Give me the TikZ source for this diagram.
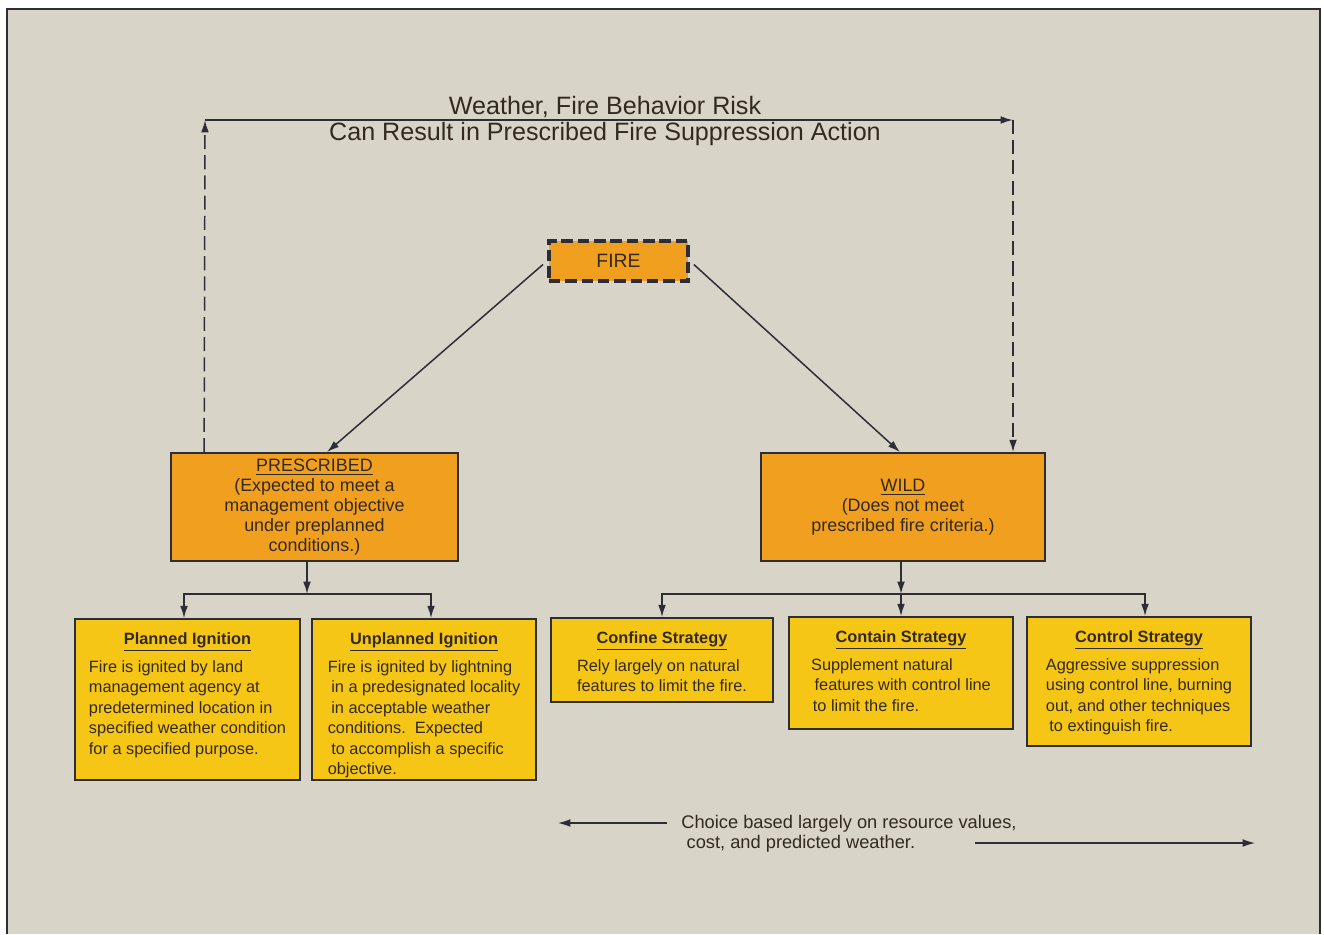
\documentclass[tikz,border=0pt]{standalone}
\usepackage{fontspec}
\setmainfont{Liberation Sans}
\usetikzlibrary{arrows.meta}
\definecolor{paper}{RGB}{217,212,200}
\definecolor{ink}{RGB}{45,45,55}
\definecolor{textink}{RGB}{50,42,32}
\definecolor{fireorange}{RGB}{241,159,31}
\definecolor{fireyellow}{RGB}{246,198,22}
\tikzset{
  arr/.style={-{Latex[length=7pt,width=4.4pt]}, line width=0.85pt, draw=ink},
  loopdash/.style={dash pattern=on 8pt off 3.5pt},
  titletext/.style={text=textink, inner sep=0pt, font=\fontsize{14.3}{16}\selectfont},
  firebox/.style={draw=ink, line width=2.3pt, dash pattern=on 6.5pt off 2.8pt, fill=fireorange,
    minimum width=2.78cm, minimum height=0.8cm, inner sep=0pt, text=textink, font=\fontsize{11}{13}\selectfont},
  bigbox/.style={draw=ink, line width=1pt, fill=fireorange, align=center, inner sep=0pt,
    text=textink, font=\fontsize{10.2}{11.3}\selectfont},
  smallbox/.style={draw=ink, line width=1pt, fill=fireyellow, inner sep=0pt,
    text=textink, font=\fontsize{9.3}{11.6}\selectfont},
  choicetext/.style={text=textink, inner sep=0pt, align=left, font=\fontsize{10.4}{11.3}\selectfont}
}
\def\strategybox(#1,#2,#3,#4,#5,#6,#7){
  \node[smallbox, minimum width=#4, minimum height=#5] (#1) at (#2,#3)
    {\parbox[c][#5][t]{#4}{\centering\vspace*{7.6pt}\underline{\textbf{#6}}\par\vspace{3pt}
     \begin{tabular}[t]{@{}l@{}}#7\end{tabular}\par}};
}

\begin{document}
\begin{tikzpicture}[x=0.02cm,y=-0.02cm]
\useasboundingbox (0,0) rectangle (1324,934);
\fill[paper] (7,9) rectangle (1320,934);
\draw[ink, line width=1.6pt] (7,934) |- (1320,9) -- (1320,934);

% top loop
\node[titletext, anchor=base] (title1) at (605,114) {Weather, Fire Behavior Risk};
\node[titletext, anchor=base] (title2) at (605,140) {Can Result in Prescribed Fire Suppression Action};

\node[firebox] (fire) at (618.5,261) {FIRE};
\node[bigbox, minimum width=5.74cm, minimum height=2.16cm] (presc) at (314.5,507)
  {\underline{PRESCRIBED}\\(Expected to meet a\\management objective\\under preplanned\\conditions.)};
\node[bigbox, minimum width=5.68cm, minimum height=2.16cm] (wild) at (903,507)
  {\underline{WILD}\\(Does not meet\\prescribed fire criteria.)};

\strategybox(planned,187.5,699.5,4.5cm,3.22cm,Planned Ignition,{Fire is ignited by land\\management agency at\\predetermined location in\\specified weather condition\\for a specified purpose.})
\strategybox(unplanned,424,699.5,4.48cm,3.22cm,Unplanned Ignition,{Fire is ignited by lightning\\\hspace*{2pt}in a predesignated locality\\\hspace*{2pt}in acceptable weather\\conditions.\ \ Expected\\\hspace*{2pt}to accomplish a specific\\objective.})
\strategybox(confine,662,660,4.44cm,1.68cm,Confine Strategy,{Rely largely on natural\\features to limit the fire.})
\strategybox(contain,901,673,4.48cm,2.24cm,Contain Strategy,{Supplement natural\\\hspace*{2pt}features with control line\\\hspace*{1pt}to limit the fire.})
\strategybox(control,1139,681.5,4.48cm,2.58cm,Control Strategy,{Aggressive suppression\\using control line, burning\\out, and other techniques\\\hspace*{2pt}to extinguish fire.})

\coordinate (loopL) at (205,120);
\coordinate (loopR) at (1013,120);
\draw[arr, loopdash] ([xshift=0.68cm]presc.north west) -- (loopL);
\draw[arr, line width=1pt] (loopL) -- (loopR);
\draw[arr, loopdash] (loopR) -- (loopR |- wild.north);

\draw[arr, shorten <=3pt] (fire.west) -- ([xshift=0.25cm]presc.north);
\draw[arr, shorten <=3pt] (fire.east) -- ([xshift=-0.06cm]wild.north);

% tree
\coordinate (pjoint) at (307,594);
\draw[arr] (presc.south -| pjoint) -- (pjoint);
\draw[arr] (pjoint) -| ([xshift=-0.07cm]planned.north);
\draw[arr] (pjoint) -| ([xshift=0.14cm]unplanned.north);
\coordinate (wjoint) at (901,594);
\draw[arr] (wild.south -| wjoint) -- (wjoint);
\draw[arr] (wjoint) -| (confine.north);
\draw[arr] (wjoint) -- (contain.north);
\draw[arr] (wjoint) -| ([xshift=0.12cm]control.north);

% choice
\node[choicetext, anchor=north west] (choice) at (681,815)
  {Choice based largely on resource values,\\\hspace*{3pt}cost, and predicted weather.};
\coordinate (lfrom) at (667,823);
\coordinate (lto) at (558,823);
\coordinate (rfrom) at (975,843);
\coordinate (rto) at (1255,843);
\draw[arr, line width=0.7pt] (lfrom) -- (lto);
\draw[arr, line width=0.7pt] (rfrom) -- (rto);
\end{tikzpicture}
\end{document}
